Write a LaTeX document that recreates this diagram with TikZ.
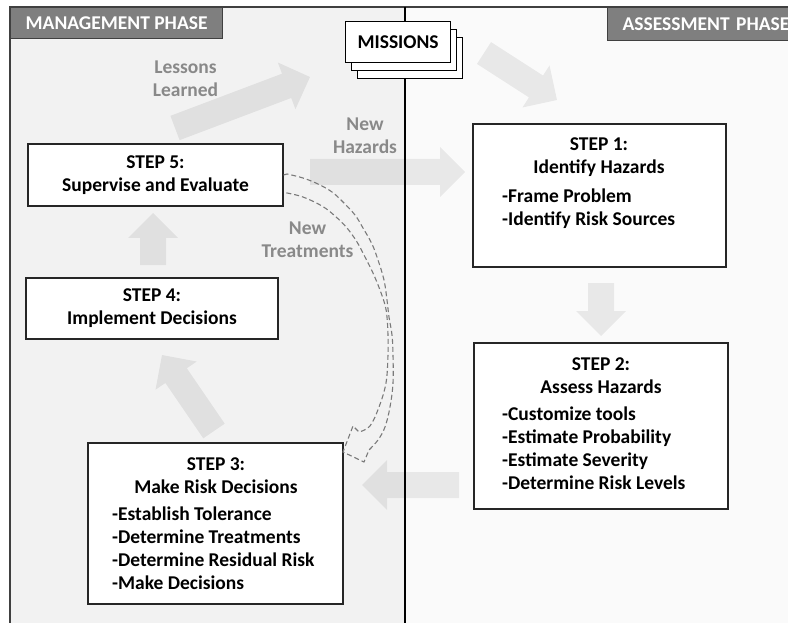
\documentclass[tikz,border=0pt]{standalone}
\usepackage{fontspec}
\setmainfont{Carlito}
\usetikzlibrary{calc}

\definecolor{leftbg}{HTML}{F2F2F2}
\definecolor{rightbg}{HTML}{FAFAFA}
\definecolor{phasefill}{HTML}{7F7F7F}
\definecolor{phaseline}{HTML}{404040}
\definecolor{labelgray}{HTML}{898989}
\definecolor{dashgray}{HTML}{7A7A7A}
\definecolor{boxline}{HTML}{262626}

% wide translucent block arrow from #1 (tail centre) to #2 (tip)
\newcommand\flowarrow[2]{%
  \coordinate (#2-base) at ($(#2)!25pt!(#1)$);
  \fill[flow] ($(#1)!13pt!90:(#2)$)
    -- ($(#2-base)!13pt!-90:(#1)$)
    -- ($(#2-base)!25pt!-90:(#1)$)
    -- (#2)
    -- ($(#2-base)!25pt!90:(#1)$)
    -- ($(#2-base)!13pt!90:(#1)$)
    -- ($(#1)!13pt!-90:(#2)$) -- cycle;}

\begin{document}
\begin{tikzpicture}[x=1pt,y=-1pt,
  txt/.style={font=\bfseries\fontsize{19.5}{23}\selectfont, inner sep=0pt},
  flow/.style={fill=black, fill opacity=0.07},
  phase/.style={txt, fill=phasefill, draw=phaseline, line width=1.2pt, text=white},
  stepbox/.style={txt, draw=boxline, line width=1.2pt, fill=white, align=center},
  mission/.style={txt, draw=black, line width=1.2pt, fill=white, minimum width=105pt, minimum height=41pt, anchor=north west},
  note/.style={txt, text=labelgray, align=center},
  treat/.style={draw=dashgray, line width=1.1pt, dash pattern=on 5pt off 3pt}]

\useasboundingbox (0,0) rectangle (788,623);
\fill[white] (0,0) rectangle (788,623);

% two phase panels
\fill[leftbg] (10,7) rectangle (405,640);
\fill[rightbg] (405,7) rectangle (800,640);
\draw[phaseline, line width=1.3pt] (10,640) -- (10,7) -- (800,7);

% flow arrows between the steps
\coordinate (ll-a) at (175,128);  \coordinate (ll-b) at (310,77);
\coordinate (mi-a) at (484,53);   \coordinate (mi-b) at (557,100);
\coordinate (nh-a) at (310,172);  \coordinate (nh-b) at (465,172);
\coordinate (s12-a) at (601,283); \coordinate (s12-b) at (601,336);
\coordinate (s23-a) at (459,485); \coordinate (s23-b) at (362,485);
\coordinate (s34-a) at (214,431); \coordinate (s34-b) at (162,355);
\coordinate (s45-a) at (153,265); \coordinate (s45-b) at (153,213);
\flowarrow{ll-a}{ll-b}
\flowarrow{mi-a}{mi-b}
\flowarrow{nh-a}{nh-b}
\flowarrow{s12-a}{s12-b}
\flowarrow{s23-a}{s23-b}
\flowarrow{s34-a}{s34-b}
\flowarrow{s45-a}{s45-b}

% dividing line between the phases
\draw[line width=2.4pt] (405,7) -- (405,640);

% phase headers
\node[phase, minimum width=212pt, minimum height=31pt, anchor=north west] (mgmt) at (10,7) {MANAGEMENT PHASE};
\node[phase, minimum height=33pt, text width=178pt, inner xsep=15pt, align=left, anchor=north west] (assess) at (607,7) {ASSESSMENT PHASE};

% missions stack
\node[mission] (m3) at (357,37) {};
\node[mission] (m2) at (351,29) {};
\node[mission] (m1) at (345,21) {MISSIONS};

% step boxes
\node[stepbox, minimum width=253pt, minimum height=143pt] (s1) at (599.5,195.5) {};
\node[txt, align=center] (s1t) at (599,157) {STEP 1:\\Identify Hazards};
\node[txt, align=left, anchor=west] (s1l) at (502,209) {-Frame Problem\\-Identify Risk Sources};

\node[stepbox, minimum width=254pt, minimum height=166pt] (s2) at (601,426) {};
\node[txt, align=center] (s2t) at (601,376) {STEP 2:\\Assess Hazards};
\node[txt, align=left, anchor=west] (s2l) at (502,448) {-Customize tools\\-Estimate Probability\\-Estimate Severity\\-Determine Risk Levels};

\node[stepbox, minimum width=255pt, minimum height=161pt] (s3) at (215.5,523.5) {};
\node[txt, align=center] (s3t) at (216,475.5) {STEP 3:\\Make Risk Decisions};
\node[txt, align=left, anchor=west] (s3l) at (112,548.5) {-Establish Tolerance\\-Determine Treatments\\-Determine Residual Risk\\-Make Decisions};

\node[stepbox, minimum width=252pt, minimum height=61pt] (s4) at (152,308.5) {STEP 4:\\Implement Decisions};
\node[stepbox, minimum width=255pt, minimum height=62pt] (s5) at (155.5,175) {STEP 5:\\Supervise and Evaluate};

% feedback of new treatments from step 5 to step 3
\draw[treat] (s5.east) -- plot[smooth, tension=0.6] coordinates {(287,174) (303,178) (318,184) (332,192) (343,202) (355,215) (363,228) (372,244) (378,260) (384,280) (387,300) (389,317) (392,335) (393,355) (393,383) (390,407) (385,427) (378,440) (369,450)}
  -- (364,462) -- (343,452) -- (353,426) -- (359,432)
  -- plot[smooth, tension=0.6] coordinates {(359,432) (370,426) (379,407) (386,383) (388,355) (388,335) (387,317) (385,305) (380,290) (373,273) (365,257) (357,242) (347,228) (335,216) (322,206) (303,197) (287,193)}
  -- ([yshift=-18pt]s5.east);

% arrow labels
\node[note] (lessons) at (185.5,78.5) {Lessons\\Learned};
\node[note] (hazards) at (365,135.5) {New\\Hazards};
\node[note] (treatments) at (307.5,239.5) {New\\Treatments};
\end{tikzpicture}
\end{document}
